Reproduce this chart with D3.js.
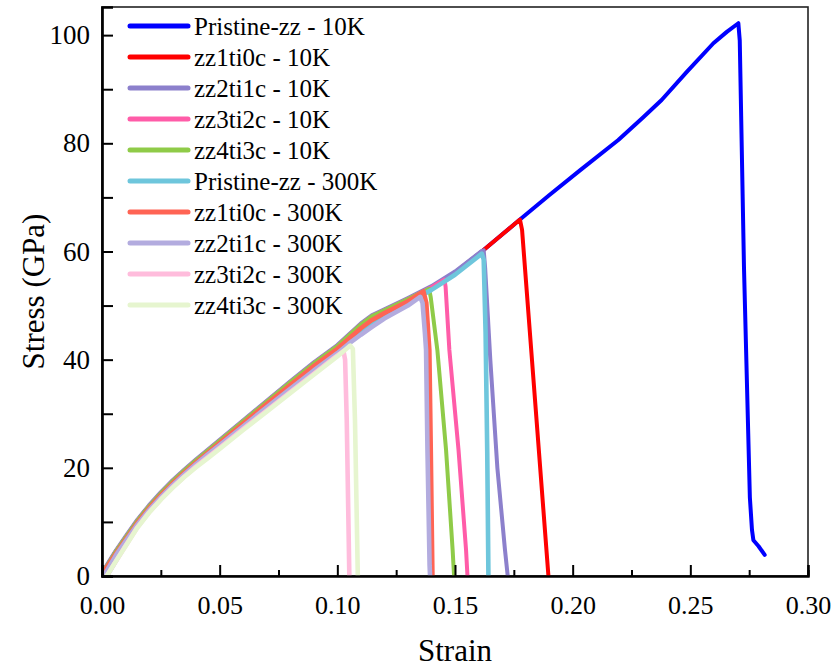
<!DOCTYPE html>
<html>
<head>
<meta charset="utf-8">
<script src="https://cdn.jsdelivr.net/npm/d3@7/dist/d3.min.js"></script>
<style>
  html, body { margin: 0; padding: 0; background: #ffffff; }
  svg { display: block; }
  text { font-family: "Liberation Serif", "Times New Roman", serif; fill: #000; }
</style>
</head>
<body>
<svg id="chart" width="835" height="667"></svg>
<script>
// ---------- DATA ----------
const seriesNames = [
  "Pristine-zz - 10K", "zz1ti0c - 10K", "zz2ti1c - 10K", "zz3ti2c - 10K", "zz4ti3c - 10K",
  "Pristine-zz - 300K", "zz1ti0c - 300K", "zz2ti1c - 300K", "zz3ti2c - 300K", "zz4ti3c - 300K"
];
const seriesColors = [
  "#0000ff", "#ff0000", "#8c80cc", "#ff5ca8", "#8fcb48",
  "#6ec6dc", "#ff6454", "#b3acdf", "#ffbcdc", "#e6f5cf"
];

// Pristine-zz - 10K
const pristine10Strain = [0, 0.003, 0.006, 0.01, 0.015, 0.02, 0.025, 0.03, 0.035, 0.04, 0.045, 0.05, 0.06, 0.07, 0.08, 0.09, 0.10, 0.105, 0.11, 0.1146, 0.12, 0.13, 0.14, 0.15, 0.1614, 0.1776, 0.19, 0.2031, 0.2194, 0.23, 0.2378, 0.2485, 0.2598, 0.2655, 0.2704, 0.2710, 0.2728, 0.2753, 0.2762, 0.2768, 0.2780, 0.2790, 0.2816];
const pristine10Stress = [0.5, 2.5, 4.6, 7.1, 10.2, 12.9, 15.3, 17.5, 19.5, 21.4, 23.2, 25.0, 28.6, 32.2, 35.8, 39.3, 42.5, 44.5, 46.5, 48.0, 49.1, 51.2, 53.4, 56.1, 60.0, 65.9, 70.4, 75.0, 80.6, 84.8, 88.0, 93.2, 98.5, 100.6, 102.2, 99, 57, 14.5, 8.5, 6.6, 6.0, 5.5, 3.9];
// zz1ti0c - 10K
const zz1ti0c10Strain = [0, 0.003, 0.006, 0.01, 0.015, 0.02, 0.025, 0.03, 0.035, 0.04, 0.045, 0.05, 0.06, 0.07, 0.08, 0.09, 0.10, 0.105, 0.11, 0.1146, 0.12, 0.13, 0.14, 0.15, 0.1614, 0.1776, 0.1785, 0.1897];
const zz1ti0c10Stress = [0.5, 2.5, 4.6, 7.1, 10.2, 12.9, 15.3, 17.5, 19.5, 21.4, 23.2, 25.0, 28.6, 32.2, 35.8, 39.3, 42.5, 44.5, 46.5, 48.0, 49.1, 51.2, 53.4, 56.1, 60.0, 65.9, 64.0, 0];
// zz2ti1c - 10K
const zz2ti1c10Strain = [0, 0.003, 0.006, 0.01, 0.015, 0.02, 0.025, 0.03, 0.035, 0.04, 0.045, 0.05, 0.06, 0.07, 0.08, 0.09, 0.10, 0.105, 0.11, 0.1146, 0.12, 0.13, 0.14, 0.15, 0.1614, 0.1622, 0.1628, 0.1650, 0.1680, 0.1712, 0.1724];
const zz2ti1c10Stress = [0.6, 2.7, 4.8, 7.3, 10.4, 13.1, 15.5, 17.7, 19.7, 21.6, 23.4, 25.2, 28.8, 32.4, 36.0, 39.5, 42.7, 44.7, 46.7, 48.2, 49.3, 51.4, 53.6, 56.3, 60.1, 60.2, 57, 40, 20, 5, 0];
// zz3ti2c - 10K
const zz3ti2c10Strain = [0, 0.003, 0.006, 0.01, 0.015, 0.02, 0.025, 0.03, 0.035, 0.04, 0.045, 0.05, 0.06, 0.07, 0.08, 0.09, 0.10, 0.105, 0.11, 0.1146, 0.12, 0.13, 0.14, 0.1455, 0.1460, 0.1476, 0.1515, 0.1547, 0.1553];
const zz3ti2c10Stress = [0.5, 2.5, 4.6, 7.1, 10.2, 12.9, 15.3, 17.5, 19.5, 21.4, 23.2, 25.0, 28.6, 32.2, 35.8, 39.3, 42.5, 44.5, 46.5, 48.0, 49.1, 51.2, 53.4, 54.8, 53.5, 41.8, 23.3, 4.8, 0];
// zz4ti3c - 10K
const zz4ti3c10Strain = [0, 0.003, 0.006, 0.01, 0.015, 0.02, 0.025, 0.03, 0.035, 0.04, 0.045, 0.05, 0.06, 0.07, 0.08, 0.09, 0.10, 0.105, 0.11, 0.1146, 0.12, 0.13, 0.1390, 0.1397, 0.1425, 0.1462, 0.1490, 0.1496];
const zz4ti3c10Stress = [0.5, 2.5, 4.6, 7.1, 10.2, 12.9, 15.3, 17.5, 19.5, 21.4, 23.2, 25.0, 28.6, 32.2, 35.8, 39.3, 42.5, 44.5, 46.5, 48.0, 49.1, 51.2, 53.1, 51.5, 41.8, 23.3, 4.8, 0];
// Pristine-zz - 300K
const pristine300Strain = [0.002, 0.006, 0.01, 0.015, 0.02, 0.025, 0.03, 0.035, 0.04, 0.045, 0.05, 0.06, 0.07, 0.08, 0.09, 0.10, 0.105, 0.11, 0.1146, 0.12, 0.13, 0.14, 0.15, 0.1614, 0.1622, 0.1630, 0.1637, 0.1642];
const pristine300Stress = [0, 2.9, 5.8, 9.3, 12.1, 14.6, 16.8, 18.8, 20.7, 22.5, 24.2, 27.8, 31.3, 34.9, 38.4, 41.5, 43.4, 45.3, 46.8, 48.2, 50.5, 52.9, 55.7, 59.6, 58.5, 45, 23, 0];
// zz1ti0c - 300K
const zz1ti0c300Strain = [0, 0.003, 0.006, 0.01, 0.015, 0.02, 0.025, 0.03, 0.035, 0.04, 0.045, 0.05, 0.06, 0.07, 0.08, 0.09, 0.10, 0.105, 0.11, 0.1146, 0.12, 0.13, 0.1366, 0.1378, 0.1391, 0.1397, 0.1404];
const zz1ti0c300Stress = [0.3, 2.2, 4.2, 6.7, 9.8, 12.5, 14.9, 17.1, 19.1, 21.0, 22.8, 24.6, 28.2, 31.8, 35.3, 38.8, 42.0, 43.9, 45.8, 47.3, 48.6, 50.8, 52.6, 50.5, 41.8, 23.3, 0];
// zz2ti1c - 300K
const zz2ti1c300Strain = [0.001, 0.006, 0.01, 0.015, 0.02, 0.025, 0.03, 0.035, 0.04, 0.045, 0.05, 0.06, 0.07, 0.08, 0.09, 0.10, 0.105, 0.11, 0.1146, 0.12, 0.13, 0.1352, 0.1362, 0.1372, 0.1377, 0.1383, 0.1392, 0.1394];
const zz2ti1c300Stress = [0.2, 3.9, 6.4, 9.5, 12.2, 14.6, 16.8, 18.8, 20.7, 22.5, 24.2, 27.7, 31.2, 34.6, 38.0, 41.2, 43.0, 44.6, 46.0, 47.6, 50.0, 51.6, 50.5, 45, 41.8, 23.3, 2, 0];
// zz3ti2c - 300K
const zz3ti2c300Strain = [0.002, 0.006, 0.01, 0.015, 0.02, 0.025, 0.03, 0.035, 0.04, 0.045, 0.05, 0.06, 0.07, 0.08, 0.09, 0.0985, 0.1026, 0.1033, 0.1040, 0.1051];
const zz3ti2c300Stress = [0, 2.8, 5.6, 9.0, 11.8, 14.2, 16.4, 18.4, 20.3, 22.0, 23.7, 27.2, 30.6, 34.0, 37.4, 40.3, 41.6, 40.0, 28.8, 0];
// zz4ti3c - 300K
const zz4ti3c300Strain = [0.002, 0.006, 0.01, 0.015, 0.02, 0.025, 0.03, 0.035, 0.04, 0.045, 0.05, 0.06, 0.07, 0.08, 0.09, 0.10, 0.1055, 0.1066, 0.1075, 0.1087];
const zz4ti3c300Stress = [0, 2.8, 5.5, 8.9, 11.7, 14.1, 16.3, 18.3, 20.1, 21.8, 23.5, 27.0, 30.4, 33.8, 37.2, 40.6, 42.6, 42.0, 28.8, 0];

const strainSeries = [pristine10Strain, zz1ti0c10Strain, zz2ti1c10Strain, zz3ti2c10Strain, zz4ti3c10Strain,
  pristine300Strain, zz1ti0c300Strain, zz2ti1c300Strain, zz3ti2c300Strain, zz4ti3c300Strain];
const stressSeries = [pristine10Stress, zz1ti0c10Stress, zz2ti1c10Stress, zz3ti2c10Stress, zz4ti3c10Stress,
  pristine300Stress, zz1ti0c300Stress, zz2ti1c300Stress, zz3ti2c300Stress, zz4ti3c300Stress];

const xMajorTicks = [0, 0.05, 0.10, 0.15, 0.20, 0.25, 0.30];
const xMinorTicks = [0.025, 0.075, 0.125, 0.175, 0.225, 0.275];
const yMajorTicks = [0, 20, 40, 60, 80, 100];
const yMinorTicks = [10, 30, 50, 70, 90];
const xTitle = "Strain";
const yTitle = "Stress (GPa)";

// ---------- LAYOUT ----------
(function () {
const svg = d3.select("#chart");
const pLeft = 102, pRight = 808, pTop = 7, pBottom = 576;
const x = d3.scaleLinear().domain([0, 0.30]).range([pLeft, pRight]);
const y = d3.scaleLinear().domain([0, 105.2]).range([pBottom, pTop]);

svg.append("rect").attr("x", pLeft).attr("y", pTop).attr("width", pRight - pLeft).attr("height", pBottom - pTop)
  .attr("fill", "none").attr("stroke", "#222").attr("stroke-width", 1.6);

svg.append("clipPath").attr("id", "clip").append("rect")
  .attr("x", pLeft).attr("y", pTop).attr("width", pRight - pLeft).attr("height", pBottom - pTop);

const line = d3.line().x(d => x(d[0])).y(d => y(d[1]));
const plotG = svg.append("g").attr("clip-path", "url(#clip)");
seriesNames.forEach((name, i) => {
  const pts = strainSeries[i].map((s, k) => [s, stressSeries[i][k]]);
  plotG.append("path").datum(pts)
    .attr("d", line)
    .attr("fill", "none")
    .attr("stroke", seriesColors[i])
    .attr("stroke-width", i < 5 ? 4 : 4.6)
    .attr("stroke-linejoin", "round")
    .attr("stroke-linecap", "round");
});

const xAxis = svg.append("g").attr("transform", `translate(0,${pBottom})`)
  .call(d3.axisBottom(x).tickValues(xMajorTicks).tickFormat(d3.format(".2f")).tickSize(-11).tickPadding(20));
const xMinor = svg.append("g").attr("transform", `translate(0,${pBottom})`)
  .call(d3.axisBottom(x).tickValues(xMinorTicks).tickFormat("").tickSize(-6));
const yAxis = svg.append("g").attr("transform", `translate(${pLeft},0)`)
  .call(d3.axisLeft(y).tickValues(yMajorTicks).tickFormat(d3.format("d")).tickSize(-11).tickPadding(12));
const yMinor = svg.append("g").attr("transform", `translate(${pLeft},0)`)
  .call(d3.axisLeft(y).tickValues(yMinorTicks).tickFormat("").tickSize(-11));

[xAxis, xMinor, yAxis, yMinor].forEach(g => {
  g.select(".domain").attr("stroke", "#000").attr("stroke-width", 2.2);
  g.selectAll(".tick line").attr("stroke", "#000").attr("stroke-width", 2);
  g.selectAll(".tick text").attr("font-family", "Liberation Serif, Times New Roman, serif").attr("fill", "#000");
});
xAxis.selectAll(".tick text").attr("font-size", 26);
yAxis.selectAll(".tick text").attr("font-size", 27);

svg.append("text").attr("x", (pLeft + pRight) / 2).attr("y", 661)
  .attr("text-anchor", "middle").attr("font-size", 31).text(xTitle);
svg.append("text").attr("transform", `translate(44,${(pTop + pBottom) / 2}) rotate(-90)`)
  .attr("text-anchor", "middle").attr("font-size", 31).text(yTitle);

const legend = svg.append("g");
seriesNames.forEach((name, i) => {
  const ly = 26 + i * 31;
  legend.append("line").attr("x1", 130).attr("x2", 188).attr("y1", ly).attr("y2", ly)
    .attr("stroke", seriesColors[i]).attr("stroke-width", 5).attr("stroke-linecap", "round");
  legend.append("text").attr("x", 194).attr("y", ly + 8.5).attr("font-size", 25).text(name);
});
})();
</script>
</body>
</html>
